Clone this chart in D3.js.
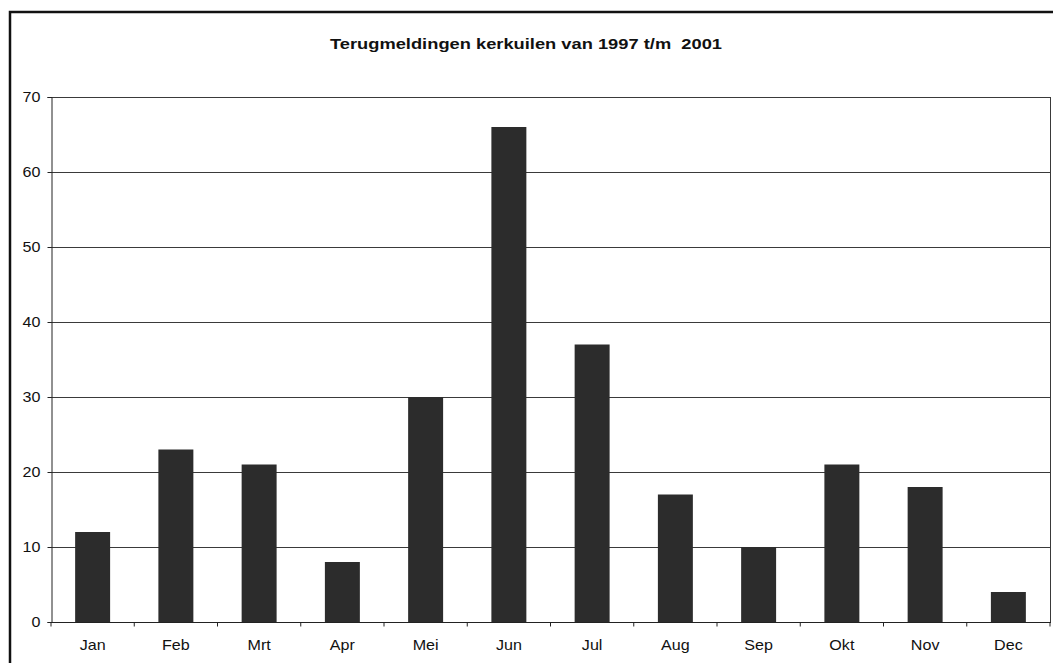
<!DOCTYPE html>
<html>
<head>
<meta charset="utf-8">
<script src="https://cdn.jsdelivr.net/npm/d3@7"></script>
<style>
  body { margin: 0; background: #fff; }
  text { font-family: "Liberation Sans", Arial, sans-serif; fill: #111; }
</style>
</head>
<body>
<div id="chart"></div>
<script>
// monthly counts
const months = ["Jan", "Feb", "Mrt", "Apr", "Mei", "Jun", "Jul", "Aug", "Sep", "Okt", "Nov", "Dec"];
const counts = [12, 23, 21, 8, 30, 66, 37, 17, 10, 21, 18, 4];
const yTicks = [0, 10, 20, 30, 40, 50, 60, 70];
const title = "Terugmeldingen kerkuilen van 1997 t/m\u00a0\u00a02001";

const width = 1053, height = 663;
const plot = { left: 51, right: 1050, top: 97, bottom: 622 };
const stretch = 1.15; // the scan is a bit wider than tall

const svg = d3.select("#chart").append("svg")
    .attr("width", width).attr("height", height);

// outer frame (top and left edges visible in the scan)
svg.append("path")
    .attr("d", `M10,${height} L10,12 L${width},12`)
    .attr("fill", "none").attr("stroke", "#111").attr("stroke-width", 2.5);

svg.append("text")
    .attr("x", 526).attr("y", 49)
    .attr("text-anchor", "middle")
    .attr("font-size", 15.5).attr("font-weight", "bold")
    .attr("textLength", 392).attr("lengthAdjust", "spacingAndGlyphs")
    .text(title);

const x = d3.scaleBand().domain(months).range([plot.left, plot.right]).paddingInner(0.58).paddingOuter(0.29);
const y = d3.scaleLinear().domain([0, 70]).range([plot.bottom, plot.top]);

// gridlines
svg.append("g").selectAll("line")
    .data(yTicks.slice(1))
    .join("line")
    .attr("x1", plot.left).attr("x2", plot.right)
    .attr("y1", d => y(d) + 0.5).attr("y2", d => y(d) + 0.5)
    .attr("stroke", "#3a3a3a").attr("stroke-width", 1);

// right edge of plot area
svg.append("line")
    .attr("x1", plot.right + 0.5).attr("x2", plot.right + 0.5)
    .attr("y1", plot.top).attr("y2", plot.bottom)
    .attr("stroke", "#3a3a3a");

// bars
svg.append("g").selectAll("rect")
    .data(counts)
    .join("rect")
    .attr("x", (d, i) => x(months[i]))
    .attr("y", d => y(d))
    .attr("width", x.bandwidth())
    .attr("height", d => y(0) - y(d))
    .attr("fill", "#2c2c2c");

// y axis
const yAxis = svg.append("g")
    .attr("transform", `translate(${plot.left + 0.5},0)`)
    .call(d3.axisLeft(y).tickValues(yTicks).tickSize(4));
yAxis.select(".domain").attr("stroke", "#222");
yAxis.selectAll(".tick line").attr("stroke", "#222");
yAxis.selectAll("text")
    .attr("x", 0)
    .attr("font-size", 14).attr("fill", "#111")
    .attr("transform", `translate(-11,0) scale(${stretch},1)`);

// x axis with ticks on category boundaries
const xAxis = svg.append("g")
    .attr("transform", `translate(0,${plot.bottom + 0.5})`);
xAxis.append("line")
    .attr("x1", plot.left).attr("x2", plot.right + 1)
    .attr("stroke", "#222");
xAxis.selectAll("line.tick")
    .data(d3.range(months.length + 1))
    .join("line")
    .attr("class", "tick")
    .attr("x1", i => plot.left + i * (plot.right - plot.left) / months.length)
    .attr("x2", i => plot.left + i * (plot.right - plot.left) / months.length)
    .attr("y1", 0).attr("y2", 4)
    .attr("stroke", "#222");
xAxis.selectAll("text")
    .data(months)
    .join("text")
    .attr("transform", d => `translate(${x(d) + x.bandwidth() / 2},27) scale(${stretch},1)`)
    .attr("text-anchor", "middle")
    .attr("font-size", 14)
    .text(d => d);
</script>
</body>
</html>
